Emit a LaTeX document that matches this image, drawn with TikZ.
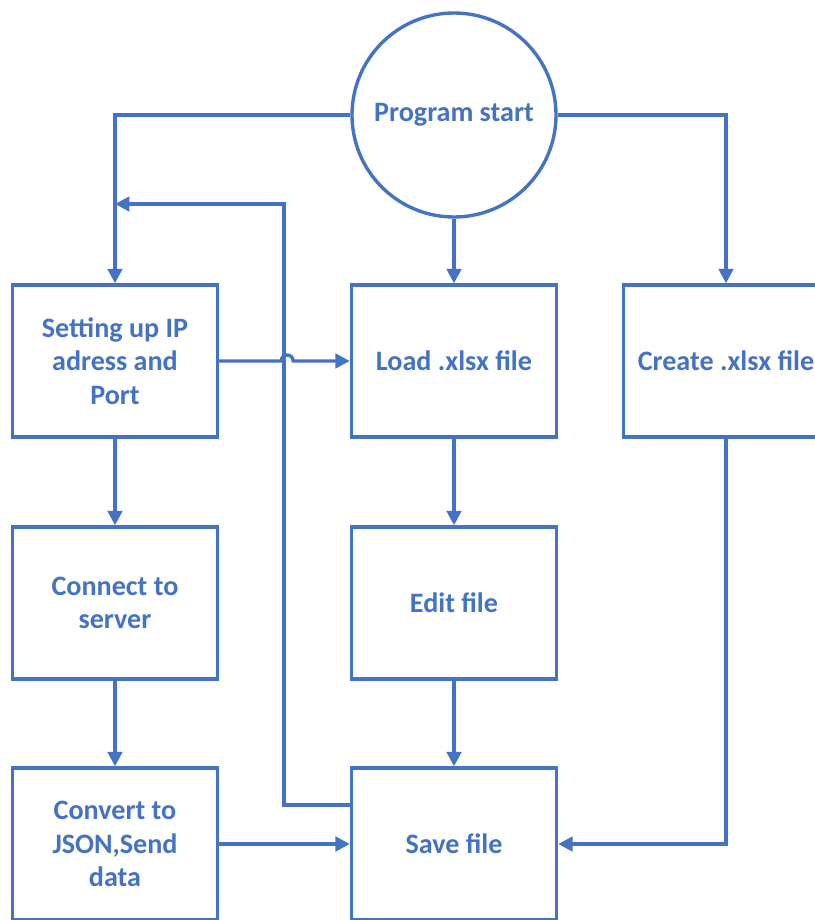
\documentclass[tikz,border=0pt]{standalone}
\usepackage{fontspec}
\setmainfont{Carlito}
\usepackage{tikz}
\usetikzlibrary{positioning,arrows.meta}
\definecolor{flowblue}{HTML}{4472C4}
\tikzstyle{squared} = [rectangle, minimum width=5.125cm, minimum height=3.8cm, text centered, align=center, draw=flowblue, line width=2.4pt, text=flowblue, font=\fontsize{20}{24}\selectfont\bfseries]
\tikzstyle{startnode} = [circle, minimum size=5.1cm, text centered, draw=flowblue, line width=2.4pt, text=flowblue, font=\fontsize{20}{24}\selectfont\bfseries]
\tikzstyle{connect} = [line width=2.4pt, draw=flowblue, -{Triangle[length=0.36cm,width=0.36cm]}]

\begin{document}
\begin{tikzpicture}[node distance=6.05cm]
			\useasboundingbox (0,0) rectangle (20.375,-23);
			\clip (0,0) rectangle (20.375,-23);
			\node (start) [startnode] at (11.35,-2.875) {Program start};
			\node (load) [squared, below of=start, yshift=-0.1cm] {Load .xlsx file};
			\node (edit) [squared, below of=load] {Edit file};
			\node (save) [squared, below of=edit, yshift=0.025cm] {Save file};
			\node (setup) [squared, left of=load, xshift=-2.425cm] {Setting up IP\\adress and\\Port};
			\node (server) [squared, below of=setup] {Connect to\\server};
			\node (convert) [squared, below of=server, yshift=0.025cm] {Convert to\\JSON,Send\\data};
			\node (create) [squared, right of=load, xshift=0.75cm] {Create .xlsx file};
			\coordinate (back) at (setup.north |- 0,-5.1);
			
			\draw [connect] (start.west) -| (setup.north);
			\draw [connect] (start.east) -| (create.north);
			\draw [connect] (start) -- (load);
			\draw [connect] (setup.east) -- ++(1.55,0) arc[start angle=180, end angle=0, radius=0.15] -- (load.west);
			\draw [connect] (setup) -- (server);
			\draw [connect] (server) -- (convert);
			\draw [connect] (load) -- (edit);
			\draw [connect] (edit) -- (save);
			\draw [connect] (convert) -- (save);
			\draw [connect] (create.south) |- (save.east);
			\draw [connect] ([yshift=0.975cm]save.west) -- ++(-1.65,0) |- (back);
			\end{tikzpicture}
\end{document}
